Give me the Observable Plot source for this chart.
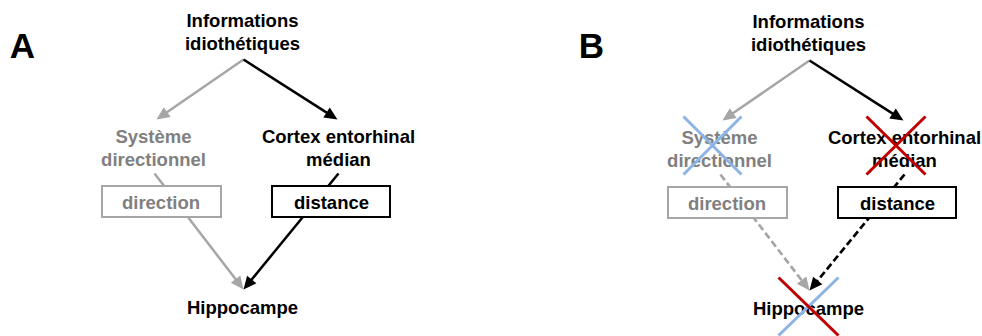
<!DOCTYPE html>
<html>
<head>
<meta charset="utf-8">
<script src="https://cdn.jsdelivr.net/npm/d3@7"></script>
<script src="https://cdn.jsdelivr.net/npm/@observablehq/plot@0.6"></script>
<style>
  html, body { margin: 0; padding: 0; background: #ffffff; }
  svg { display: block; }
</style>
</head>
<body>
<script>
// ---------- content ----------
const panelNames = ["A", "B"];
const nodeNames = ["Informations\nidiothétiques", "Système\ndirectionnel", "Cortex entorhinal\nmédian", "Hippocampe"];
const nodeTone = ["dark", "light", "dark", "dark"];
const cueNames = ["direction", "distance"];
const cueTone = ["light", "dark"];
const edgeTone = ["light", "dark", "light", "dark"];      // info→sys, info→cortex, sys→hippo, cortex→hippo
const edgeDashedInB = [false, false, true, true];
const lesionTonesB = [["blue", "blue"], ["red", "red"], ["red", "blue"]]; // système, cortex, hippocampe

// ---------- layout (diagram coordinates, panel A; panel B shifted) ----------
const W = 982, H = 336;
const panelDx = [0, 566], panelDy = [0, 1];
const panelLabelX = [22, 591], panelLabelY = 57;
const nodeXY = [[242, 49], [153, 165], [338, 165], [242, 313]];
const cueBoxXY = [[102, 221, 186, 217], [272, 390, 186, 217]];
const cueTextXY = [[160.5, 208], [331, 208]];
const edgeXY = [[243, 59, 156, 119], [243, 59, 337, 119], [154, 173, 243, 289], [338, 173, 243, 289]];
const lesionXY_B = [[712, 145, 29, 29], [895.5, 145, 29.5, 29], [808, 306, 30, 29]];

// ---------- styles ----------
const textColor = {dark: "#000000", light: "#808080"};
const lineColor = {dark: "#000000", light: "#a6a6a6"};
const lesionColor = {blue: "#8db4e2", red: "#c00000"};

// ---------- build tables ----------
const nodes = [], cues = [], cueTexts = [], edges = [], heads = [], lesions = [], panels = [];
panelNames.forEach((p, pi) => {
  const dx = panelDx[pi], dy = panelDy[pi];
  panels.push({x: panelLabelX[pi], y: panelLabelY, text: p});
  nodeNames.forEach((t, i) => nodes.push({x: nodeXY[i][0] + dx, y: nodeXY[i][1] + dy, text: t, fill: textColor[nodeTone[i]]}));
  cueNames.forEach((t, i) => {
    const [x1, x2, y1, y2] = cueBoxXY[i];
    cues.push({x1: x1 + dx, x2: x2 + dx, y1: y1 + dy, y2: y2 + dy, stroke: lineColor[cueTone[i]]});
    cueTexts.push({x: cueTextXY[i][0] + dx, y: cueTextXY[i][1] + dy, text: t, fill: textColor[cueTone[i]]});
  });
  edgeXY.forEach(([a, b, c, d], i) => {
    const X1 = a + dx, Y1 = b + dy, X2 = c + dx, Y2 = d + dy;
    const len = Math.hypot(X2 - X1, Y2 - Y1), ux = (X2 - X1) / len, uy = (Y2 - Y1) / len;
    const L = 13, hw = 6;
    const col = lineColor[edgeTone[i]];
    edges.push({x1: X1, y1: Y1, x2: X2 - ux * (L - 3), y2: Y2 - uy * (L - 3), stroke: col, dashed: pi === 1 && edgeDashedInB[i]});
    const bx = X2 - ux * L, by = Y2 - uy * L, id = pi + "-" + i;
    heads.push({id, x: X2, y: Y2, fill: col},
               {id, x: bx - uy * hw, y: by + ux * hw, fill: col},
               {id, x: bx + uy * hw, y: by - ux * hw, fill: col});
  });
});
lesionXY_B.forEach(([cx, cy, hx, hy], i) => {
  const [toneBack, toneFwd] = lesionTonesB[i];
  lesions.push({x1: cx + hx, y1: cy - hy, x2: cx - hx, y2: cy + hy, stroke: lesionColor[toneFwd]});  // "/"
  lesions.push({x1: cx - hx, y1: cy - hy, x2: cx + hx, y2: cy + hy, stroke: lesionColor[toneBack]}); // "\"
});
lesions.sort((a, b) => (a.stroke === lesionColor.blue ? 0 : 1) - (b.stroke === lesionColor.blue ? 0 : 1));

const font = "'Liberation Sans', Arial, Helvetica, sans-serif";

const chart = Plot.plot({
  width: W, height: H, margin: 0,
  x: {domain: [0, W], range: [0, W], axis: null},
  y: {domain: [0, H], range: [0, H], axis: null},
  color: {type: "identity"},
  style: {fontFamily: font, background: "#ffffff"},
  marks: [
    Plot.link(edges.filter(d => !d.dashed), {x1: "x1", y1: "y1", x2: "x2", y2: "y2", stroke: "stroke", strokeWidth: 2.5, strokeLinecap: "butt"}),
    Plot.link(edges.filter(d => d.dashed), {x1: "x1", y1: "y1", x2: "x2", y2: "y2", stroke: "stroke", strokeWidth: 2.7, strokeDasharray: "7,3.5", strokeLinecap: "butt"}),
    Plot.line(heads, {x: "x", y: "y", z: "id", fill: "fill", stroke: "none", curve: "linear"}),
    Plot.rect(cues, {x1: "x1", x2: "x2", y1: "y1", y2: "y2", fill: "#ffffff", stroke: "stroke", strokeWidth: 2}),
    Plot.text(cueTexts, {x: "x", y: "y", text: "text", fill: "fill", fontSize: 18.5, fontWeight: "bold", lineAnchor: "bottom", textAnchor: "middle", fontFamily: font}),
    Plot.text(nodes, {x: "x", y: "y", text: "text", fill: "fill", fontSize: 18.5, fontWeight: "bold", lineAnchor: "bottom", lineHeight: 1.2, textAnchor: "middle", fontFamily: font}),
    Plot.text(panels, {x: "x", y: "y", text: "text", fill: "#000000", fontSize: 35, fontWeight: "bold", lineAnchor: "bottom", textAnchor: "middle", fontFamily: font}),
    Plot.link(lesions, {x1: "x1", y1: "y1", x2: "x2", y2: "y2", stroke: "stroke", strokeWidth: 3, strokeLinecap: "butt"})
  ]
});
document.body.appendChild(chart);
</script>
</body>
</html>
